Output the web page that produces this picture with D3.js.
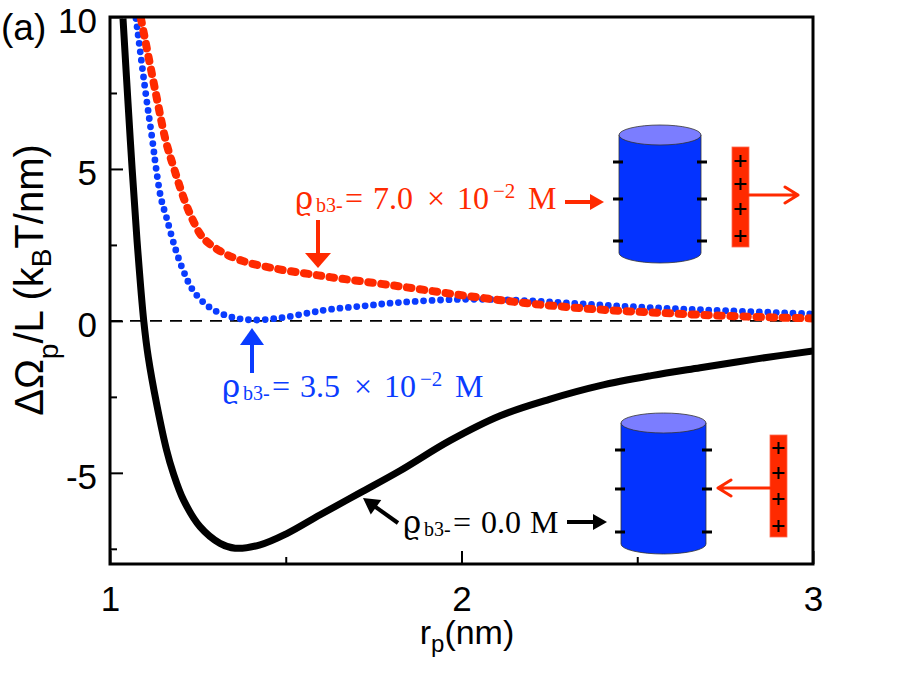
<!DOCTYPE html>
<html>
<head>
<meta charset="utf-8">
<script src="https://cdn.jsdelivr.net/npm/d3@7"></script>
<style>
  html, body { margin: 0; padding: 0; background: #fff; }
  svg { display: block; }
</style>
</head>
<body>
<svg id="chart" width="913" height="681"></svg>
<script>
// ---------- data ----------
const blackR = [1.037,1.051,1.063,1.077,1.096,1.109,1.133,1.161,1.180,1.209,1.256,1.313,1.356,1.427,1.503,1.598,1.711,1.825,1.967,2.11,2.25,2.394,2.54,2.679,2.84,3.0];
const blackV = [9.95,7.22,5.0,2.63,0,-1.2,-2.75,-4.25,-5.01,-5.89,-6.77,-7.32,-7.48,-7.37,-7.0,-6.38,-5.66,-4.93,-3.94,-3.12,-2.58,-2.13,-1.8,-1.54,-1.25,-0.99];

const blueR = [1.074,1.102,1.121,1.131,1.145,1.161,1.185,1.209,1.237,1.284,1.341,1.407,1.492,1.569,1.626,1.72,1.816,2.004,2.195,2.385,2.573,2.764,3.0];
const blueV = [9.95,7.45,5.91,5.03,4.04,3.39,2.41,1.64,0.99,0.44,0.14,0.03,0.11,0.27,0.38,0.49,0.60,0.71,0.66,0.53,0.42,0.33,0.23];

const redR = [1.088,1.131,1.159,1.182,1.208,1.233,1.265,1.313,1.378,1.475,1.569,1.626,1.816,2.004,2.195,2.385,2.573,2.764,3.0];
const redV = [9.95,7.45,5.91,5.02,4.1,3.38,2.73,2.30,1.97,1.71,1.54,1.44,1.15,0.84,0.57,0.38,0.26,0.16,0.08];

const xMajorTicks = [1, 2, 3];
const xMinorTicks = [1.5, 2.5];
const yMajorTicks = [-5, 0, 5, 10];
const yMinorTicks = [-7.5, -2.5, 2.5, 7.5];
const xDomain = [1, 3];
const yDomain = [-8, 10];

const labelRed   = {value: "7.0", sup: "−2"};
const labelBlue  = {value: "3.5", sup: "−2"};
const labelBlack = {value: "0.0", sup: ""};

// ---------- layout ----------
const svg = d3.select("#chart");
const L = 110, R = 813, T = 17, B = 564;
const x = d3.scaleLinear().domain(xDomain).range([L, R]);
const y = d3.scaleLinear().domain(yDomain).range([B, T]);

const RED = "#ff2a00", BLUE = "#0a3cff", CYL = "#0433ff", CYLTOP = "#7b7dff";
const SANS = "'Liberation Sans', Arial, Helvetica, sans-serif";
const SERIF = "'Liberation Serif', 'Times New Roman', serif";

svg.append("defs").append("clipPath").attr("id", "plotclip")
  .append("rect").attr("x", L).attr("y", T).attr("width", R - L).attr("height", B - T);

// zero dashed line
svg.append("line")
  .attr("x1", x(1)).attr("x2", x(3)).attr("y1", y(0)).attr("y2", y(0))
  .attr("stroke", "#000").attr("stroke-width", 1.8).attr("stroke-dasharray", "12 8");

const line = d3.line().x(d => x(d[0])).y(d => y(d[1])).curve(d3.curveCatmullRom.alpha(0.5));
const g = svg.append("g").attr("clip-path", "url(#plotclip)");

g.append("path").datum(blackR.map((r, i) => [r, blackV[i]]))
  .attr("d", line).attr("fill", "none").attr("stroke", "#000").attr("stroke-width", 7);

g.append("path").datum(blueR.map((r, i) => [r, blueV[i]]))
  .attr("d", line).attr("fill", "none").attr("stroke", BLUE).attr("stroke-width", 6.8)
  .attr("stroke-linecap", "round").attr("stroke-dasharray", "0 8.4");

g.append("path").datum(redR.map((r, i) => [r, redV[i]]))
  .attr("d", line).attr("fill", "none").attr("stroke", RED).attr("stroke-width", 8)
  .attr("stroke-linecap", "round").attr("stroke-dasharray", "4.5 8.5");

// ---------- axes ----------
function styleAxis(sel) {
  sel.select(".domain").remove();
  sel.selectAll(".tick line").attr("stroke", "#000").attr("stroke-width", 2);
  sel.selectAll("text").attr("font-family", SANS).attr("font-size", 35).attr("fill", "#000");
}
const fmt = d => String(d);
svg.append("g").attr("transform", `translate(${L},0)`)
  .call(d3.axisLeft(y).tickValues(yMajorTicks).tickSize(-13).tickPadding(13).tickFormat(fmt))
  .call(styleAxis).selectAll("text").attr("dy", "0.45em");
svg.append("g").attr("transform", `translate(${L},0)`)
  .call(d3.axisLeft(y).tickValues(yMinorTicks).tickSize(-7).tickFormat(""))
  .call(styleAxis);
svg.append("g").attr("transform", `translate(0,${B})`)
  .call(d3.axisBottom(x).tickValues(xMajorTicks).tickSize(-13).tickPadding(22).tickFormat(fmt))
  .call(styleAxis);
svg.append("g").attr("transform", `translate(0,${B})`)
  .call(d3.axisBottom(x).tickValues(xMinorTicks).tickSize(-7).tickFormat(""))
  .call(styleAxis);

// frame
svg.append("rect").attr("x", L).attr("y", T).attr("width", R - L).attr("height", B - T)
  .attr("fill", "none").attr("stroke", "#000").attr("stroke-width", 3);

// panel tag
svg.append("text").attr("x", 1).attr("y", 40).attr("font-family", SANS).attr("font-size", 37).text("(a)");

// axis titles
const xt = svg.append("text").attr("x", 467).attr("y", 644).attr("text-anchor", "middle")
  .attr("font-family", SANS).attr("font-size", 34);
xt.append("tspan").text("r");
xt.append("tspan").attr("font-size", 24).attr("dy", 8).text("p");
xt.append("tspan").attr("dy", -8).text("(nm)");

const yt = svg.append("text").attr("transform", "translate(43,280) rotate(-90)")
  .attr("text-anchor", "middle").attr("font-family", SANS).attr("font-size", 40);
yt.append("tspan").text("ΔΩ");
yt.append("tspan").attr("font-size", 28).attr("dy", 15).text("p");
yt.append("tspan").attr("dy", -15).text("/L (k");
yt.append("tspan").attr("font-size", 28).attr("dy", 8).text("B");
yt.append("tspan").attr("dy", -8).text("T/nm)");

// ---------- annotations ----------
function conc(lbl, x0, y0, color) {
  const t = svg.append("text").attr("y", y0).attr("fill", color)
    .attr("font-family", SERIF).attr("font-size", 32);
  t.append("tspan").attr("x", x0).attr("font-family", "'DejaVu Serif', serif").attr("font-size", 31).text("ϱ");
  t.append("tspan").attr("x", x0 + 21).attr("y", y0 + 3).attr("font-size", 20).text("b3-");
  t.append("tspan").attr("x", x0 + 50).attr("y", y0).text("=");
  t.append("tspan").attr("x", x0 + 78).text(lbl.value);
  if (lbl.sup) {
    t.append("tspan").attr("x", x0 + 132).text("×");
    t.append("tspan").attr("x", x0 + 162).text("10");
    t.append("tspan").attr("x", x0 + 198).attr("y", y0 - 11).attr("font-size", 21).text(lbl.sup);
    t.append("tspan").attr("x", x0 + 233).attr("y", y0).text("M");
  } else {
    t.append("tspan").attr("x", x0 + 127).text("M");
  }
  return t;
}
conc(labelRed, 295, 209, RED);
conc(labelBlue, 222, 397, BLUE);
conc(labelBlack, 403, 533, "#000");

function arrow(x1, y1, x2, y2, color, w, hl, hw) {
  const dx = x2 - x1, dy = y2 - y1, len = Math.hypot(dx, dy);
  const ux = dx / len, uy = dy / len, px = -uy, py = ux;
  const bx = x2 - ux * hl, by = y2 - uy * hl;
  svg.append("line").attr("x1", x1).attr("y1", y1).attr("x2", bx + ux * 2).attr("y2", by + uy * 2)
    .attr("stroke", color).attr("stroke-width", w);
  svg.append("path").attr("d", `M${x2},${y2}L${bx + px * hw},${by + py * hw}L${bx - px * hw},${by - py * hw}Z`)
    .attr("fill", color);
}
function chevron(x1, y1, x2, y2, color, w, hl, hw) {
  const dx = x2 - x1, dy = y2 - y1, len = Math.hypot(dx, dy);
  const ux = dx / len, uy = dy / len, px = -uy, py = ux;
  const bx = x2 - ux * hl, by = y2 - uy * hl;
  svg.append("path")
    .attr("d", `M${x1},${y1}L${x2},${y2}M${bx + px * hw},${by + py * hw}L${x2},${y2}L${bx - px * hw},${by - py * hw}`)
    .attr("fill", "none").attr("stroke", color).attr("stroke-width", w)
    .attr("stroke-linecap", "round").attr("stroke-linejoin", "round");
}
arrow(318, 220, 318, 268, RED, 4, 15, 13);
arrow(565, 202, 604, 202, RED, 4, 14, 8);
arrow(252, 373, 252, 328, BLUE, 4, 17, 12);
arrow(398, 523, 363, 498, "#000", 4, 16, 9);
arrow(567, 522, 607, 522, "#000", 4, 14, 8);

// ---------- schematic cylinders ----------
function cylinder(cx, rx, ry, yTop, yBot, dashYs, dashL, dashR) {
  const c = svg.append("g");
  c.append("path")
    .attr("d", `M${cx - rx},${yTop}L${cx - rx},${yBot}A${rx},${ry} 0 0 0 ${cx + rx},${yBot}L${cx + rx},${yTop}Z`)
    .attr("fill", CYL).attr("stroke", "#333").attr("stroke-width", 0.8);
  c.append("ellipse").attr("cx", cx).attr("cy", yTop).attr("rx", rx).attr("ry", ry)
    .attr("fill", CYLTOP).attr("stroke", "#333").attr("stroke-width", 0.8);
  dashYs.forEach(yy => {
    c.append("line").attr("x1", dashL[0]).attr("x2", dashL[1]).attr("y1", yy).attr("y2", yy)
      .attr("stroke", "#000").attr("stroke-width", 3);
    c.append("line").attr("x1", dashR[0]).attr("x2", dashR[1]).attr("y1", yy).attr("y2", yy)
      .attr("stroke", "#000").attr("stroke-width", 3);
  });
}
function plusBar(x0, w, y0, y1, plusYs) {
  svg.append("rect").attr("x", x0).attr("y", y0).attr("width", w).attr("height", y1 - y0)
    .attr("fill", RED).attr("stroke", "#ff6a50").attr("stroke-width", 0.8);
  const cx = x0 + w / 2;
  plusYs.forEach(py => {
    svg.append("path").attr("d", `M${cx - 6},${py}L${cx + 6},${py}M${cx},${py - 6}L${cx},${py + 6}`)
      .attr("stroke", "#000").attr("stroke-width", 2);
  });
}
cylinder(660, 41, 10, 135, 253, [162, 199, 241], [613, 623], [697, 707]);
plusBar(732, 17, 147, 247, [161, 184, 209, 236]);
chevron(749, 195, 798, 195, RED, 3, 13, 8);

cylinder(663.5, 42.5, 10, 423, 544, [450, 489, 532], [615, 625], [702, 712]);
plusBar(770, 17, 435, 537, [448, 473, 499, 526]);
chevron(770, 488, 718, 488, RED, 3, 13, 8);
</script>
</body>
</html>
